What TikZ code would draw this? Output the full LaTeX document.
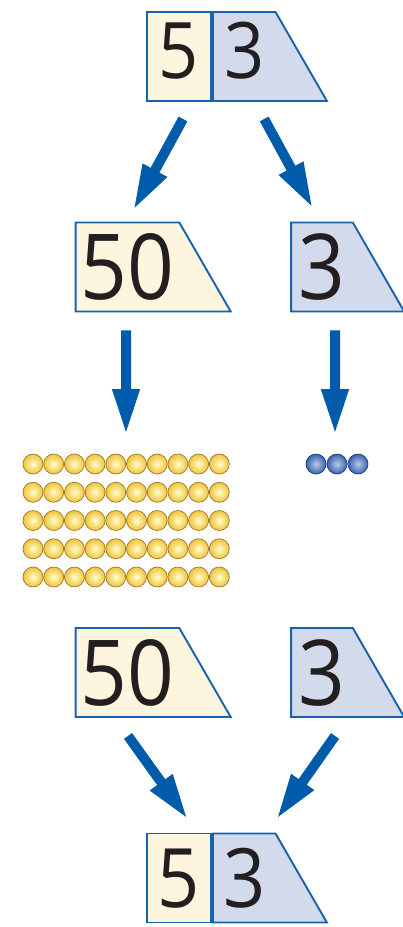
\documentclass[tikz,border=0pt]{standalone}
\usepackage{fontspec}
\setmainfont{Open Sans}[FakeStretch=0.9]
\usepackage{xcolor}
\usepackage{tikz}
\usetikzlibrary{positioning}
\usetikzlibrary{shapes.geometric,arrows.meta}

\definecolor{tenfill}{HTML}{FDF5DE}
\definecolor{onefill}{HTML}{D3DAEC}
\definecolor{cardline}{HTML}{1662AC}
\definecolor{arrowblue}{HTML}{005BAA}
\definecolor{digit}{HTML}{231F20}
\definecolor{beadgold}{HTML}{F2C23A}
\definecolor{beadrim}{HTML}{9A7B25}
\definecolor{beadblue}{HTML}{3A62B0}
\definecolor{beadnavy}{HTML}{1E3C7A}

\begin{document}
\begin{tikzpicture}[x=1pt, y=-1pt, node distance=0pt, card/.style={draw=cardline, line width=1.9pt, inner xsep=0pt, minimum height=89pt, text=digit}, tens/.style={card, fill=tenfill}, ones/.style={card, fill=onefill}, box/.style={rectangle, minimum width=64pt}, slant/.style={trapezium, trapezium left angle=90, trapezium right angle=60, trapezium stretches body}, raised/.style={font=\fontsize{78}{78}\selectfont, text height=55pt, text depth=11pt, inner ysep=11.5pt}, small/.style={font=\fontsize{82}{82}\selectfont, text height=59pt, text depth=0pt, inner ysep=15pt}, big/.style={font=\fontsize{91}{91}\selectfont, text height=65pt, text depth=0pt, inner ysep=12pt}, arr/.style={draw=arrowblue, line width=10pt, -{Triangle[width=25pt,length=46pt]}}, gold/.style={circle, draw=beadrim, line width=0.7pt, inner sep=0pt, minimum size=20pt, inner color=yellow!20!white, outer color=beadgold}, bluebead/.style={circle, draw=beadnavy, line width=0.7pt, inner sep=0pt, minimum size=20pt, inner color=beadblue!35!white, outer color=beadblue}]
		\useasboundingbox (0,0) rectangle (403,927);
		% number 53
		\node[tens, box, raised] (five) at (179,56.5) {5};
		\node[ones, slant, raised, minimum width=114pt] (three) [right = of five] {3};
		% split into tens and ones
		\node[tens, slant, big, minimum width=155pt] (fifty) at (127.5,267) {50};
		\node[ones, slant, big, minimum width=113pt] (unit) at (322,267) {3};
		% beads
		\foreach \i in {0,...,9}
		\foreach \j in {0,...,4}
		\node[gold] (g-\i-\j) at (33+20.7*\i, 464+28.25*\j) {};
		\foreach \i in {0,1,2}
		\node[bluebead] (b-\i) at (316+21*\i, 464) {};
		\coordinate (tenstop) at (126,435);
		\coordinate (onestop) at (335,435);
		% counted again
		\node[tens, slant, big, minimum width=155pt] (fifty2) at (127.5,672.5) {50};
		\node[ones, slant, big, minimum width=113pt] (unit2) at (322,672.5) {3};
		% back to 53
		\node[tens, box, small] (five2) at (179,878) {5};
		\node[ones, slant, small, minimum width=114pt] (three2) [right = of five2] {3};
		\path (five.south) ++(4,17) coordinate (s1) (fifty.north) ++(5.5,-11) coordinate (e1)
		(three.south) ++(20,17) coordinate (s2) (unit.north) ++(-9,-13) coordinate (e2)
		(fifty.south) ++(-1.5,18) coordinate (s3)
		(unit.south) ++(13,18) coordinate (s4)
		(fifty2.south) ++(0.5,18) coordinate (s5) (five2.north) ++(9,-13) coordinate (e5)
		(unit2.south) ++(13,18) coordinate (s6) (three2.north) ++(32,-13) coordinate (e6);
		\draw[arr] (s1) -- (e1);
		\draw[arr] (s2) -- (e2);
		\draw[arr] (s3) -- (tenstop);
		\draw[arr] (s4) -- (onestop);
		\draw[arr] (s5) -- (e5);
		\draw[arr] (s6) -- (e6);
\end{tikzpicture}
\end{document}
